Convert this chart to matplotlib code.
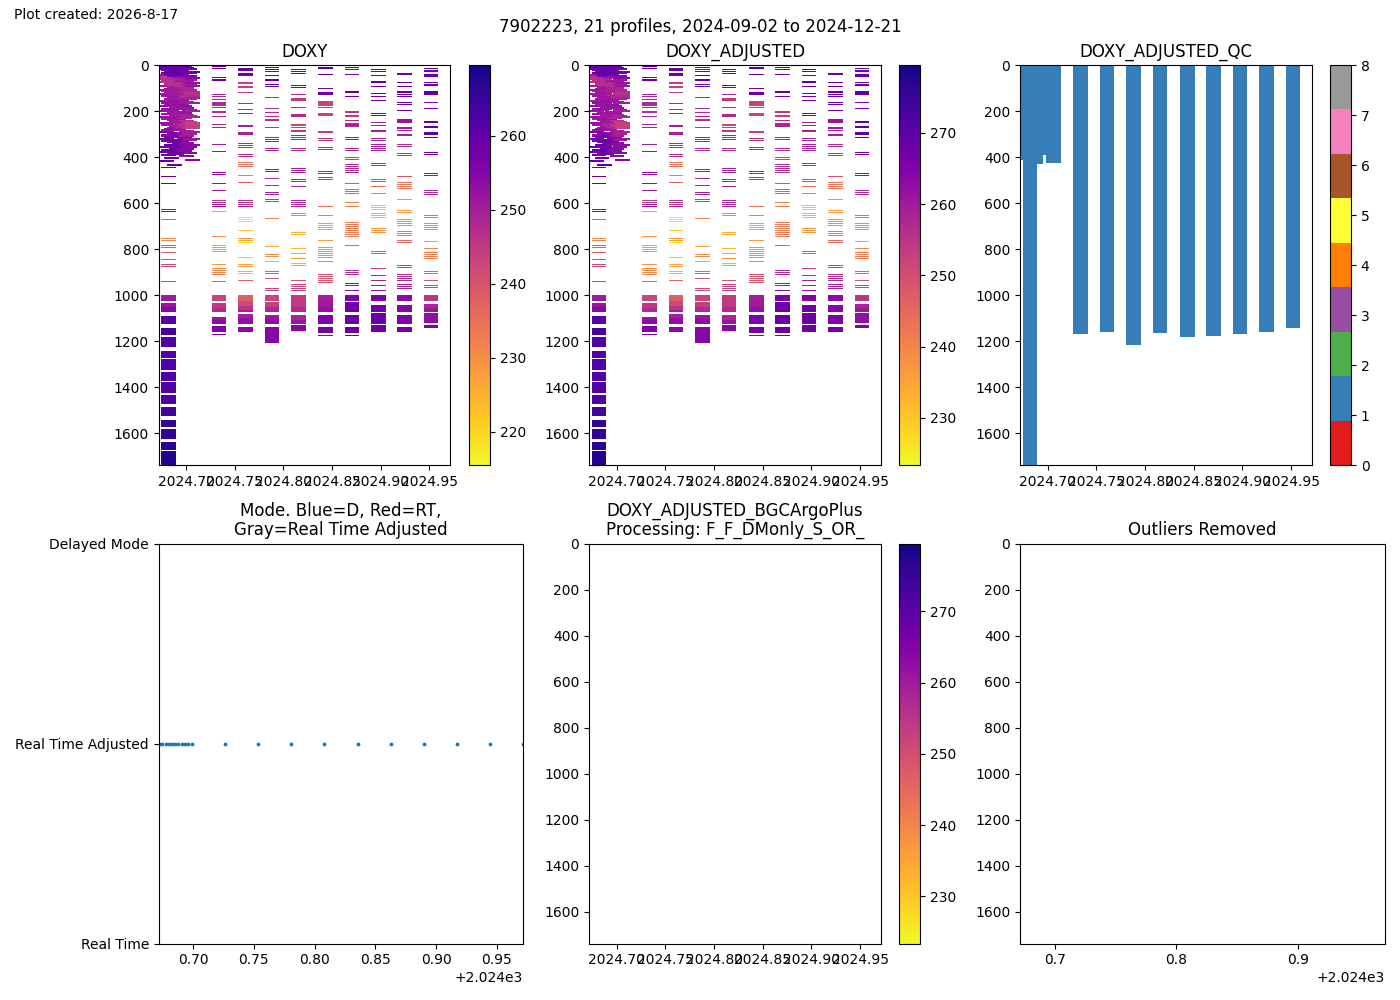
import numpy as np
import matplotlib
matplotlib.use('Agg')
import matplotlib.pyplot as plt
from matplotlib.cm import ScalarMappable
from matplotlib.colors import Normalize
from matplotlib.ticker import FormatStrFormatter

# decimal year of each profile
profile_time = [2024.6724, 2024.6745, 2024.6774, 2024.6802, 2024.6827, 2024.6852, 2024.6877,
                2024.6905, 2024.6930, 2024.6959, 2024.6988, 2024.7262, 2024.7534, 2024.7806,
                2024.8078, 2024.8358, 2024.8629, 2024.8901, 2024.9173, 2024.9445, 2024.9714]

doxy_range = [215.5, 269.6]
adj_range = [223.4, 279.5]
adj_gain = 1.0367  # DOXY_ADJUSTED = gain * DOXY

# thin rows, pressure and DOXY of each profile
p01 = [3, 12, 40, 48, 56, 70, 88, 104, 122, 150, 172, 196, 220, 246, 286, 318, 350, 375, 414]
v01 = [258, 258, 251, 246, 247, 246, 251, 252, 251, 251, 253, 252, 253, 253, 256, 257, 258, 258, 258]
p02 = [6, 18, 30, 52, 64, 86, 110, 132, 160, 186, 210, 232, 258, 280, 302, 326, 366, 388, 443, 483, 513,
       625, 633, 670, 752, 761, 783, 791, 813, 843, 865, 874, 939]
v02 = [259, 259, 258, 246, 246, 251, 251, 252, 254, 252, 252, 251, 252, 252, 254, 256, 258, 258, 259, 259, 260,
       255, 255, 238, 231, 231, 238, 238, 239, 240, 242, 243, 243]
p03 = [2, 15, 24, 36, 62, 76, 98, 118, 144, 168, 192, 226, 252, 272, 310, 344, 372, 398]
v03 = [260, 259, 260, 259, 247, 247, 252, 251, 252, 253, 252, 252, 252, 254, 257, 258, 258, 258]
p04 = [4, 20, 33, 44, 58, 82, 94, 116, 138, 166, 188, 204, 236, 268, 296, 330, 352, 380, 430]
v04 = [259, 260, 260, 258, 248, 246, 251, 252, 251, 252, 253, 252, 251, 253, 256, 258, 259, 258, 260]
p05 = [8, 24, 36, 70, 92, 126, 152, 178, 216, 244, 262, 292, 320, 362, 384]
v05 = [260, 260, 259, 247, 251, 251, 252, 252, 250, 252, 250, 255, 258, 258, 258]
p06 = [2, 14, 28, 54, 80, 108, 134, 158, 182, 208, 230, 254, 276, 306, 338, 366]
v06 = [259, 260, 260, 250, 247, 251, 252, 253, 252, 251, 252, 249, 252, 257, 258, 258]
p07 = [6, 22, 34, 66, 86, 112, 128, 146, 170, 198, 222, 240, 270, 298, 328, 358, 376]
v07 = [259, 259, 260, 251, 247, 250, 251, 252, 253, 251, 252, 251, 251, 255, 258, 258, 257]
p08 = [2, 12, 30, 48, 74, 100, 124, 142, 176, 202, 226, 250, 266, 290, 312, 344, 368]
v08 = [258, 259, 258, 252, 247, 250, 249, 251, 253, 252, 249, 248, 248, 252, 255, 255, 254]
p09 = [8, 26, 44, 68, 96, 114, 136, 156, 182, 214, 238, 258, 284, 304, 336, 362, 392]
v09 = [258, 259, 256, 251, 249, 249, 248, 251, 252, 251, 247, 246, 250, 251, 254, 255, 255]
p10 = [14, 28, 42, 60, 84, 104, 122, 142, 160, 190, 218, 244, 268, 296, 322, 350, 378]
v10 = [257, 258, 256, 252, 251, 249, 248, 251, 252, 252, 248, 245, 247, 250, 252, 254, 254]
p11 = [26, 50, 72, 88, 112, 120, 130, 140, 162, 196, 220, 248, 255, 262, 270, 288, 316, 344, 408]
v11 = [258, 254, 253, 252, 247, 247, 248, 250, 251, 250, 249, 244, 244, 244, 244, 250, 252, 254, 255]
p12 = [3, 12, 52, 62, 67, 126, 136, 148, 160, 165, 170, 175, 183, 199, 204, 222, 257, 270, 343, 374, 465, 474,
       513, 543, 587, 596, 604, 613, 635, 743, 782, 791, 800, 809, 865, 883, 890, 899, 907, 939, 1168]
v12 = [259, 258, 258, 259, 259, 249, 248, 249, 248, 248, 248, 248, 248, 247, 247, 249, 249, 249, 250, 252, 253, 253,
       253, 251, 245, 246, 250, 252, 228, 230, 229, 229, 228, 229, 229, 230, 231, 231, 233, 238, 258]
p13 = [12, 17, 22, 33, 38, 43, 75, 79, 91, 96, 117, 165, 191, 209, 259, 264, 290, 295, 300, 339, 348, 357, 387, 396,
       422, 430, 439, 478, 509, 587, 596, 604, 613, 661, 670, 678, 717, 752, 761, 770, 835, 865, 874, 896, 904, 935]
v13 = [259, 259, 259, 259, 259, 259, 244, 244, 244, 244, 246, 248, 248, 249, 250, 250, 250, 250, 250, 248, 247, 247, 247, 246,
       233, 235, 237, 232, 238, 246, 245, 245, 250, 218, 216, 218, 221, 230, 226, 218, 222, 227, 228, 226, 225, 238]
p14 = [9, 17, 26, 43, 59, 64, 83, 91, 139, 187, 204, 222, 235, 240, 268, 313, 322, 330, 361, 370, 452, 461, 491, 522,
       552, 561, 583, 591, 665, 787, 822, 830, 852, 896, 904, 926, 970, 978]
v14 = [258, 258, 258, 258, 260, 260, 258, 258, 248, 248, 248, 248, 247, 247, 245, 250, 250, 250, 248, 248, 251, 251, 249, 249,
       250, 250, 245, 245, 232, 226, 231, 231, 226, 238, 238, 240, 243, 243]
p15 = [17, 26, 35, 87, 96, 126, 142, 147, 152, 183, 212, 217, 222, 257, 262, 268, 281, 286, 304, 313, 322, 361, 370,
       448, 457, 465, 496, 504, 526, 587, 596, 604, 613, 643, 652, 726, 735, 796, 817, 839, 861, 870, 935, 952, 961, 970, 978]
v15 = [257, 257, 257, 257, 257, 248, 245, 245, 245, 247, 248, 248, 248, 243, 243, 243, 245, 245, 249, 250, 250, 248, 248,
       250, 250, 250, 250, 250, 250, 249, 249, 249, 249, 232, 232, 225, 225, 224, 227, 228, 225, 228, 240, 244, 244, 244, 244]
p16 = [9, 13, 39, 100, 117, 122, 127, 155, 160, 165, 170, 175, 183, 209, 214, 219, 287, 292, 317, 326, 357, 365, 461, 470,
       487, 496, 613, 652, 687, 696, 704, 713, 761, 791, 800, 809, 817, 826, 835, 852, 909, 917, 926, 935, 943, 1172]
v16 = [262, 262, 260, 258, 259, 259, 259, 243, 243, 243, 243, 243, 243, 243, 243, 243, 244, 244, 247, 247, 248, 248, 250, 250,
       246, 246, 235, 232, 228, 228, 228, 228, 228, 230, 230, 230, 230, 230, 230, 232, 240, 240, 240, 240, 240, 255]
p17 = [9, 17, 39, 112, 117, 135, 199, 204, 217, 222, 239, 251, 256, 261, 266, 313, 322, 361, 370, 400, 409, 430, 439, 448, 457, 465,
       513, 539, 548, 557, 596, 613, 683, 691, 700, 709, 717, 726, 735, 743, 783, 891, 900, 909, 948, 957, 978, 1174]
v17 = [258, 258, 258, 261, 261, 258, 246, 246, 245, 245, 247, 249, 249, 249, 249, 250, 250, 248, 248, 244, 244, 247, 247, 247, 247, 247,
       240, 238, 238, 238, 233, 233, 233, 233, 233, 233, 233, 233, 233, 233, 238, 248, 248, 248, 252, 252, 254, 258]
p18 = [17, 26, 43, 68, 73, 91, 122, 135, 152, 209, 217, 248, 259, 281, 286, 317, 326, 343, 352, 361, 370, 426, 435, 496, 504, 526, 557,
       609, 617, 626, 643, 652, 661, 709, 717, 726, 809, 817, 883, 913, 935, 957, 978]
v18 = [258, 258, 258, 261, 261, 258, 258, 258, 258, 257, 257, 249, 249, 250, 250, 250, 250, 250, 250, 250, 250, 247, 247, 241, 241, 235, 232,
       223, 223, 222, 225, 225, 224, 229, 229, 229, 239, 239, 245, 247, 250, 251, 253]
p19 = [33, 38, 74, 91, 112, 117, 126, 135, 161, 170, 196, 233, 238, 243, 248, 268, 272, 283, 299, 304, 343, 352, 383, 391, 483, 509, 517, 526, 535,
       583, 630, 639, 670, 678, 687, 696, 722, 730, 739, 761, 770, 870, 878, 909, 917, 926, 935, 952, 961, 970]
v19 = [259, 259, 258, 258, 259, 259, 258, 258, 258, 258, 258, 252, 252, 252, 252, 251, 251, 251, 250, 250, 248, 248, 246, 246, 240, 234, 234, 234, 234,
       230, 228, 228, 230, 230, 230, 230, 234, 234, 234, 236, 236, 244, 244, 248, 248, 248, 248, 250, 250, 250]
p20 = [13, 20, 25, 38, 43, 48, 74, 83, 88, 112, 117, 122, 127, 161, 187, 242, 247, 264, 269, 290, 295, 300, 313, 378, 387, 470, 478,
       543, 552, 561, 652, 661, 687, 696, 704, 713, 765, 796, 813, 822, 830, 839, 896, 904, 935, 957, 965]
v20 = [258, 257, 257, 258, 258, 258, 258, 258, 258, 261, 261, 261, 261, 256, 257, 260, 260, 261, 261, 261, 261, 261, 260, 258, 258, 253, 253,
       248, 248, 248, 236, 236, 231, 231, 231, 231, 228, 232, 233, 233, 233, 233, 237, 237, 241, 243, 243]
rows_p = [p01, p02, p03, p04, p05, p06, p07, p08, p09, p10, p11, p12, p13, p14, p15, p16, p17, p18, p19, p20]
rows_v = [v01, v02, v03, v04, v05, v06, v07, v08, v09, v10, v11, v12, v13, v14, v15, v16, v17, v18, v19, v20]

# thick bands below 1000 dbar: top, bottom, DOXY
b02_top = [1000, 1033, 1050, 1090, 1142, 1181, 1242, 1277, 1333, 1377, 1433, 1486, 1542, 1581, 1638, 1677]
b02_bot = [1025, 1050, 1072, 1125, 1172, 1225, 1272, 1325, 1372, 1425, 1472, 1525, 1572, 1625, 1672, 1739]
b02_v = [251, 252, 255, 261, 264, 262, 262, 262, 262, 262, 263, 264, 266, 266, 267, 268]
b12_top = [1000, 1033, 1055, 1094, 1108, 1133]
b12_bot = [1025, 1055, 1072, 1108, 1125, 1160]
b12_v = [243, 245, 248, 252, 254, 256]
b13_top = [1000, 1025, 1049, 1064, 1081, 1099, 1138]
b13_bot = [1025, 1049, 1064, 1072, 1099, 1125, 1160]
b13_v = [238, 242, 246, 250, 250, 253, 254]
b14_top = [1000, 1029, 1050, 1086, 1103, 1138]
b14_bot = [1025, 1050, 1072, 1103, 1125, 1207]
b14_v = [243, 244, 248, 252, 254, 255]
b15_top = [1000, 1025, 1050, 1086, 1107, 1129]
b15_bot = [1025, 1050, 1072, 1107, 1125, 1155]
b15_v = [245, 245, 248, 249, 252, 255]
b16_top = [1000, 1025, 1050, 1086, 1138]
b16_bot = [1025, 1050, 1072, 1125, 1164]
b16_v = [250, 251, 253, 256, 257]
b17_top = [1000, 1029, 1086, 1138]
b17_bot = [1025, 1072, 1125, 1164]
b17_v = [256, 258, 259, 259]
b18_top = [1000, 1042, 1077, 1129]
b18_bot = [1025, 1072, 1125, 1160]
b18_v = [256, 258, 259, 258]
b19_top = [1000, 1042, 1086, 1138]
b19_bot = [1025, 1072, 1125, 1160]
b19_v = [254, 255, 256, 257]
b20_top = [1000, 1038, 1055, 1077, 1129]
b20_bot = [1025, 1055, 1072, 1120, 1142]
b20_v = [246, 249, 252, 253, 256]
bands = {2: (b02_top, b02_bot, b02_v), 12: (b12_top, b12_bot, b12_v), 13: (b13_top, b13_bot, b13_v),
         14: (b14_top, b14_bot, b14_v), 15: (b15_top, b15_bot, b15_v), 16: (b16_top, b16_bot, b16_v),
         17: (b17_top, b17_bot, b17_v), 18: (b18_top, b18_bot, b18_v), 19: (b19_top, b19_bot, b19_v),
         20: (b20_top, b20_bot, b20_v)}

# deepest good sample of each profile, all flagged 1
qc_bottom = [415, 1739, 430, 430, 390, 390, 390, 390, 390, 390, 428,
             1170, 1160, 1218, 1165, 1182, 1178, 1168, 1160, 1142]
qc_flag = 1

# data mode of each profile (1 = Real Time Adjusted)
mode = [1] * 21
mode_labels = ['Real Time', 'Real Time Adjusted', 'Delayed Mode']

cell_w = 0.0150
row_h = 4.5
cluster_row_h = 9  # the first float days were sampled more finely
cluster_end = 11
x_lim = (2024.6716, 2024.9714)
p_max = 1739

W, H = 1400, 1000


def place(x0, x1, y0, y1):
    return fig.add_axes([x0 / W, 1 - y1 / H, (x1 - x0) / W, (y1 - y0) / H])


def draw_doxy(ax, norm, gain=1.0):
    cmap = plt.get_cmap('plasma_r')
    for i in range(20):
        t = profile_time[i]
        p = np.array(rows_p[i])
        v = np.array(rows_v[i]) * gain
        h = np.full(len(p), row_h)
        if i < cluster_end:
            h[p < 431] = cluster_row_h
        ax.bar([t] * len(p), h, bottom=p, width=cell_w, align='edge',
               color=cmap(norm(v)), linewidth=0)
        if i + 1 in bands:
            top, bot, bv = bands[i + 1]
            top = np.array(top)
            ax.bar([t] * len(top), np.array(bot) - top, bottom=top, width=cell_w, align='edge',
                   color=cmap(norm(np.array(bv) * gain)), linewidth=0)


def depth_axis(ax, title):
    ax.set_xlim(*x_lim)
    ax.set_ylim(p_max, 0)
    ax.set_title(title, fontsize=12, linespacing=1.05)
    ax.set_xticks([2024.70, 2024.75, 2024.80, 2024.85, 2024.90, 2024.95])
    ax.xaxis.set_major_formatter(FormatStrFormatter('%.2f'))


fig = plt.figure(figsize=(14, 10), dpi=100)
fig.text(14 / W, 1 - 15 / H, 'Plot created: 2026-8-17', fontsize=10, va='center')
fig.text(700 / W, 1 - 27 / H, '7902223, 21 profiles, 2024-09-02 to 2024-12-21', fontsize=12, ha='center', va='center')

norm_doxy = Normalize(*doxy_range)
norm_adj = Normalize(*adj_range)

ax1 = place(158.6, 450, 65, 465)
draw_doxy(ax1, norm_doxy)
depth_axis(ax1, 'DOXY')
fig.colorbar(ScalarMappable(norm_doxy, 'plasma_r'), cax=place(469, 490, 65, 465))

ax2 = place(589, 881, 65, 465)
draw_doxy(ax2, norm_adj, adj_gain)
depth_axis(ax2, 'DOXY_ADJUSTED')
fig.colorbar(ScalarMappable(norm_adj, 'plasma_r'), cax=place(899, 920, 65, 465))

ax3 = place(1020, 1312, 65, 465)
qc_cmap = plt.get_cmap('Set1', 9)
norm_qc = Normalize(0, 8)
for i in range(20):
    ax3.bar(profile_time[i], qc_bottom[i], width=cell_w, align='edge',
            color=qc_cmap(norm_qc(qc_flag)), linewidth=0)
depth_axis(ax3, 'DOXY_ADJUSTED_QC')
cb = fig.colorbar(ScalarMappable(norm_qc, qc_cmap), cax=place(1330, 1351, 65, 465))
cb.set_ticks(range(9))

ax4 = place(158.6, 523, 543.5, 943.5)
ax4.scatter(profile_time, mode, s=3)
ax4.set_xlim(*x_lim)
ax4.set_ylim(0, 2)
ax4.set_yticks([0, 1, 2])
ax4.set_yticklabels(mode_labels)
ax4.set_xticks([2024.70, 2024.75, 2024.80, 2024.85, 2024.90, 2024.95])
ax4.set_title('Mode. Blue=D, Red=RT,\nGray=Real Time Adjusted', fontsize=12, linespacing=1.05)

ax5 = place(589, 881, 543.5, 943.5)
depth_axis(ax5, 'DOXY_ADJUSTED_BGCArgoPlus\nProcessing: F_F_DMonly_S_OR_')
fig.colorbar(ScalarMappable(norm_adj, 'plasma_r'), cax=place(899, 920, 543.5, 943.5))

ax6 = place(1020, 1385, 543.5, 943.5)
ax6.set_xlim(*x_lim)
ax6.set_ylim(p_max, 0)
ax6.set_xticks([2024.7, 2024.8, 2024.9])
ax6.set_title('Outliers Removed', fontsize=12)

fig.savefig('out.png', dpi=100)
